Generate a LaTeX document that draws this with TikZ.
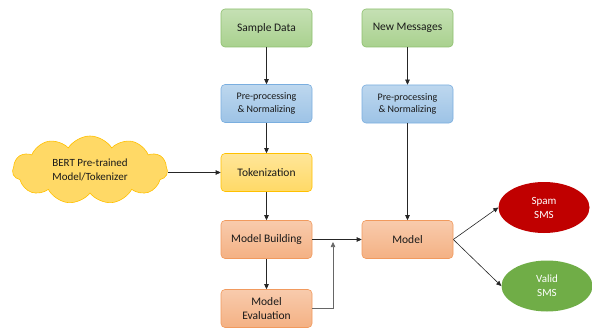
\documentclass[tikz,border=0pt]{standalone}
\usepackage{fontspec}
\setmainfont{Carlito}
\usetikzlibrary{arrows.meta,shapes.symbols,shapes.geometric}
\definecolor{grnT}{HTML}{C5E0B4}
\definecolor{grnB}{HTML}{A9D18E}
\definecolor{grnD}{HTML}{8DBF6E}
\definecolor{bluT}{HTML}{BDD7EE}
\definecolor{bluB}{HTML}{9DC3E6}
\definecolor{bluD}{HTML}{7AAEDF}
\definecolor{ylwT}{HTML}{FFE699}
\definecolor{ylwB}{HTML}{FFD966}
\definecolor{ylwD}{HTML}{FFC000}
\definecolor{orgT}{HTML}{F8CBAD}
\definecolor{orgB}{HTML}{F4B183}
\definecolor{orgD}{HTML}{F19A5E}
\definecolor{spam}{HTML}{C00000}
\definecolor{valid}{HTML}{70AD47}
\tikzset{
  box/.style={rectangle, rounded corners=4pt, minimum width=91pt, minimum height=38pt,
    align=center, line width=0.6pt, text=black!90},
  greenbox/.style={box, top color=grnT, bottom color=grnB, draw=grnD, font=\fontsize{11.5}{13}\selectfont},
  bluebox/.style={box, top color=bluT, bottom color=bluB, draw=bluD, font=\fontsize{10}{12.5}\selectfont},
  yellowbox/.style={box, top color=ylwT, bottom color=ylwB, draw=ylwD, font=\fontsize{11.5}{13}\selectfont},
  orangebox/.style={box, top color=orgT, bottom color=orgB, draw=orgD, font=\fontsize{11.5}{13.5}\selectfont},
  outcome/.style={ellipse, minimum width=91pt, minimum height=51pt, align=center,
    text=white, font=\fontsize{11}{14}\selectfont, inner sep=0pt},
  arr/.style={-{Triangle[length=5pt,width=4.5pt]}, line width=0.6pt, black!85},
}
\begin{document}
\begin{tikzpicture}[x=1pt,y=-1pt]
\useasboundingbox (0,0) rectangle (592,329);

\node[greenbox] (sample) at (266.5,28) {Sample Data};
\node[bluebox] (preL) at (266.5,103.5) {Pre-processing\\\& Normalizing};
\node[yellowbox] (tok) at (266.5,172.5) {Tokenization};
\node[orangebox] (build) at (266.5,239.5) {Model Building};
\node[orangebox] (eval) at (266.5,308.5) {Model\\Evaluation};

\node[greenbox] (newmsg) at (407.5,28) {New Messages};
\node[bluebox] (preR) at (407.5,104) {Pre-processing\\\& Normalizing};
\node[orangebox] (model) at (407.5,239.5) {Model};

\node[cloud, cloud puffs=11, cloud puff arc=115, aspect=2.4,
  minimum width=155pt, minimum height=68pt, inner sep=0pt,
  fill=ylwB, draw=ylwD, line width=0.6pt, align=center,
  font=\fontsize{11}{14}\selectfont, text=black!90] (bert) at (90,170)
  {BERT Pre-trained\\Model/Tokenizer};

\node[outcome, fill=spam] (spamsms) at (544,207.5) {Spam\\SMS};
\node[outcome, fill=valid] (validsms) at (547,286) {Valid\\SMS};

\coordinate (join) at (333,239.5);

\draw[arr] (sample) -- (preL);
\draw[arr] (preL) -- (tok);
\draw[arr] (tok) -- (build);
\draw[arr] (build) -- (eval);
\draw[arr] (newmsg) -- (preR);
\draw[arr] (preR) -- (model);
\draw[arr] (tok.west -| bert.east) -- (tok.west);
\draw[arr] (build) -- (model);
\draw[arr, black!60] (eval.east) -| ([yshift=-2.5pt]join);
\draw[arr] (model.east) -- (spamsms.west);
\draw[arr] (model.east) -- (validsms.west);
\end{tikzpicture}
\end{document}
